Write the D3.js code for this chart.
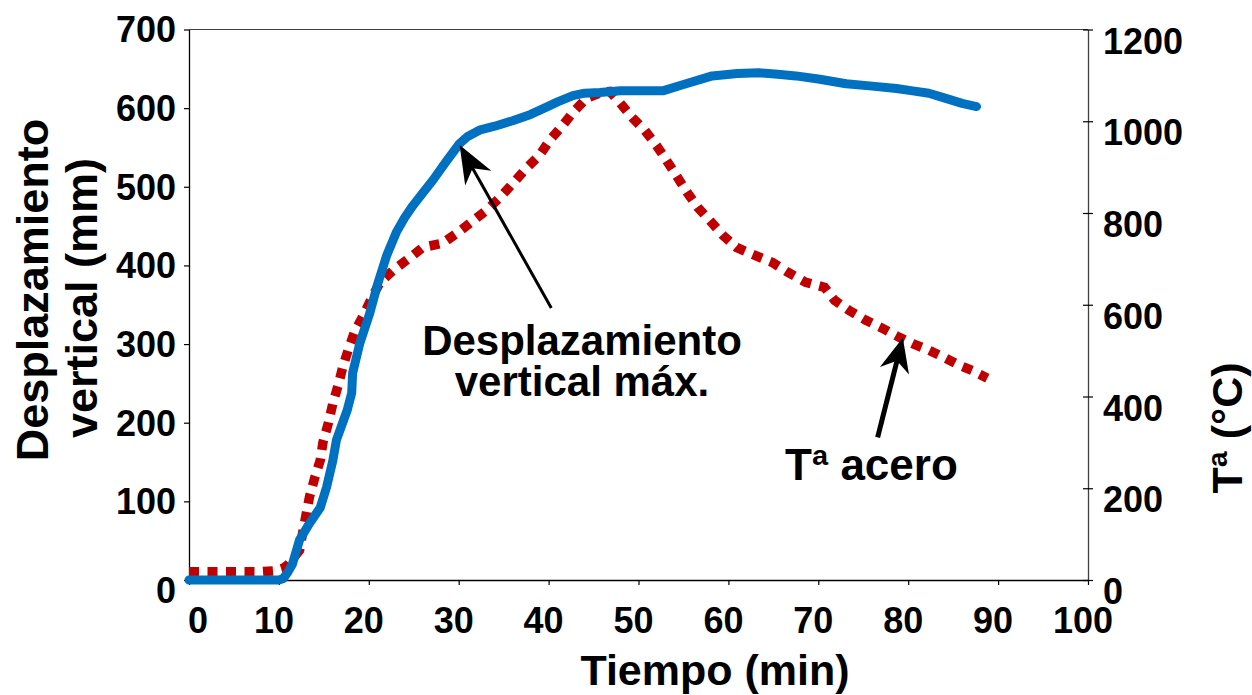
<!DOCTYPE html>
<html>
<head>
<meta charset="utf-8">
<script src="https://cdn.jsdelivr.net/npm/d3@7"></script>
<style>
  body { margin: 0; background: #fff; }
  svg { font-family: 'Liberation Sans', Arial, sans-serif; font-weight: bold; }
</style>
</head>
<body>
<div id="top_div"></div>
<script>
// tiempo (min) / desplazamiento vertical (mm)
var dispTime = [0, 2, 4, 6, 8, 10, 10.5, 11, 11.5, 12.3, 13.4, 14.6, 15.3, 16, 16.4, 17.6, 18.1, 18.2, 19, 20.1,
  21, 22, 23.1, 24, 24.9, 26, 27.1, 28.6, 30.1, 31, 32.3, 34, 36, 38, 39.7, 41, 42.7, 44, 45.7, 48, 50, 52.7,
  55, 58.2, 61, 63.4, 65.5, 67.5, 70, 73.1, 76, 78.7, 80.5, 82.3, 84, 86, 87.6];
var dispValues = [0, 0, 0, 0, 0, 0, 2, 10, 20, 51, 72, 92, 118, 152, 178, 216, 238, 263, 301, 339,
  377, 413, 443, 461, 476, 492, 508, 532, 555, 564, 572, 577, 584, 592, 601, 608, 616, 619, 620, 622, 622, 622,
  630, 641, 644, 645, 643, 641, 637, 631, 628, 625, 622, 619, 613, 606, 602];

// tiempo (min) / temperatura del acero (°C)
var tempTime = [0, 2, 4, 6, 8, 9.5, 10.5, 11, 11.5, 12.3, 12.7, 13.4, 14, 14.6, 14.9, 15.5, 16, 16.6, 17.1, 17.7,
  18.4, 19.4, 20.3, 21.2, 22.7, 24.6, 26, 28.2, 29.8, 31.2, 33.1, 34.6, 36, 37.5, 39, 40.1, 41.4, 42.7, 44.2, 45.9,
  46.8, 47.9, 49.3, 50.7, 52, 53.1, 54.2, 55.4, 56.6, 58.1, 59.4, 60.9, 62.9, 64.9, 66.6, 68.6, 70.7, 71.8, 73.4, 75.3,
  77.1, 79, 80.5, 82.3, 84, 85.7, 87.3, 88.8];
var tempValues = [18, 18, 18, 18, 18, 20, 26, 33, 45, 65, 109, 181, 224, 261, 300, 342, 385, 425, 464, 501,
  540, 577, 614, 647, 675, 703, 725, 734, 756, 777, 806, 834, 864, 897, 926, 958, 987, 1019, 1050, 1063,
  1065, 1041, 1008, 980, 947, 915, 882, 845, 812, 780, 751, 725, 708, 692, 671, 649, 638, 610, 588, 566,
  549, 529, 515, 501, 485, 468, 455, 440];

var xTicks = [0, 10, 20, 30, 40, 50, 60, 70, 80, 90, 100];
var yLeftTicks = [0, 100, 200, 300, 400, 500, 600, 700];
var yRightTicks = [0, 200, 400, 600, 800, 1000, 1200];

var W = 1252, H = 695;
var plotLeft = 189, plotRight = 1088, plotTop = 29.5, plotBottom = 580;

var svg = d3.select('#top_div')
  .append('svg')
    .attr('width', W)
    .attr('height', H);

var x = d3.scaleLinear().domain([0, 100]).range([plotLeft, plotRight]);
var yL = d3.scaleLinear().domain([0, 700]).range([plotBottom, plotTop]);
var yR = d3.scaleLinear().domain([0, 1200]).range([plotBottom, plotTop]);

// marco superior
svg.append('line')
  .attr('x1', plotLeft).attr('x2', plotRight)
  .attr('y1', plotTop).attr('y2', plotTop)
  .attr('stroke', '#404040').attr('stroke-width', 1.2);

// ejes (solo lineas y marcas)
var gx = svg.append('g')
  .attr('transform', 'translate(0,' + plotBottom + ')')
  .call(d3.axisBottom(x).tickValues(xTicks).tickSize(5).tickSizeOuter(0).tickFormat(''));
var gl = svg.append('g')
  .attr('transform', 'translate(' + plotLeft + ',0)')
  .call(d3.axisLeft(yL).tickValues(yLeftTicks).tickSize(5).tickSizeOuter(0).tickFormat(''));
var gr = svg.append('g')
  .attr('transform', 'translate(' + plotRight + ',0)')
  .call(d3.axisRight(yR).tickValues(yRightTicks).tickSize(5).tickSizeOuter(0).tickFormat(''));
gr.selectAll('.tick line').attr('x1', -5);
[gx, gl, gr].forEach(function(g) {
  g.select('.domain').attr('stroke', '#000').attr('stroke-width', 1.3);
  g.selectAll('.tick line').attr('stroke', '#000').attr('stroke-width', 1.2);
});
gr.select('.domain').attr('stroke', '#404040');

// etiquetas de ejes
svg.append('g').selectAll('text')
  .data(xTicks).enter().append('text')
    .attr('x', (d) => x(d) - 5 + (d === 0 ? 14 : 0))
    .attr('y', 633)
    .attr('text-anchor', 'middle')
    .attr('font-size', 36)
    .text((d) => d);
svg.append('g').selectAll('text')
  .data(yLeftTicks).enter().append('text')
    .attr('x', 176)
    .attr('y', (d) => yL(d) + (d === 0 ? 10 : 0))
    .attr('dy', '0.36em')
    .attr('text-anchor', 'end')
    .attr('font-size', 36)
    .text((d) => d);
svg.append('g').selectAll('text')
  .data(yRightTicks).enter().append('text')
    .attr('x', 1103)
    .attr('y', (d) => yR(d) + 12)
    .attr('dy', '0.34em')
    .attr('text-anchor', 'start')
    .attr('font-size', 36)
    .text((d) => d);

// titulos
svg.append('text')
  .attr('x', 715).attr('y', 685)
  .attr('text-anchor', 'middle')
  .attr('font-size', 43)
  .text('Tiempo (min)');
svg.append('text')
  .attr('transform', 'translate(48,290) rotate(-90)')
  .attr('text-anchor', 'middle')
  .attr('font-size', 45)
  .text('Desplazamiento');
svg.append('text')
  .attr('transform', 'translate(97,298) rotate(-90)')
  .attr('text-anchor', 'middle')
  .attr('font-size', 45)
  .text('vertical (mm)');
svg.append('text')
  .attr('transform', 'translate(1242,428) rotate(-90)')
  .attr('text-anchor', 'middle')
  .attr('font-size', 43)
  .text('Tª (°C)');

// series
var dispData = dispTime.map((t, i) => ({ t: t, v: dispValues[i] }));
var tempData = tempTime.map((t, i) => ({ t: t, v: tempValues[i] }));

svg.append('path')
  .datum(tempData)
  .attr('fill', 'none')
  .attr('stroke', '#C00000')
  .attr('stroke-width', 9.5)
  .attr('stroke-dasharray', '10,8.5')
  .attr('d', d3.line().x((d) => x(d.t)).y((d) => yR(d.v)));

svg.append('path')
  .datum(dispData)
  .attr('fill', 'none')
  .attr('stroke', '#0070C0')
  .attr('stroke-width', 9)
  .attr('stroke-linecap', 'round')
  .attr('stroke-linejoin', 'round')
  .attr('d', d3.line().x((d) => x(d.t)).y((d) => yL(d.v)));

// flechas
function arrow(x1, y1, x2, y2, w, len, half) {
  var dx = x2 - x1, dy = y2 - y1, L = Math.sqrt(dx * dx + dy * dy);
  var ux = dx / L, uy = dy / L, px = -uy, py = ux;
  svg.append('line')
    .attr('x1', x1).attr('y1', y1)
    .attr('x2', x2 - ux * len * 0.6).attr('y2', y2 - uy * len * 0.6)
    .attr('stroke', '#000').attr('stroke-width', w);
  var bx = x2 - ux * len, by = y2 - uy * len;
  var nx = x2 - ux * len * 0.7, ny = y2 - uy * len * 0.7;
  svg.append('path')
    .attr('d', 'M' + x2 + ',' + y2 +
      'L' + (bx + px * half) + ',' + (by + py * half) +
      'L' + nx + ',' + ny +
      'L' + (bx - px * half) + ',' + (by - py * half) + 'Z')
    .attr('fill', '#000');
}
arrow(x(40.3), yL(346), x(30.1), yL(553), 3, 38, 15);
arrow(x(76.6), yR(311), x(79.4), yR(528), 5, 34, 15);

// anotaciones
var ann = svg.append('g')
  .attr('transform', 'translate(582,355)')
  .attr('text-anchor', 'middle')
  .attr('font-size', 42);
ann.append('text').attr('y', 0).text('Desplazamiento');
ann.append('text').attr('y', 41).text('vertical máx.');

svg.append('text')
  .attr('x', 785).attr('y', 480)
  .attr('font-size', 44)
  .text('Tª acero');
</script>
</body>
</html>
